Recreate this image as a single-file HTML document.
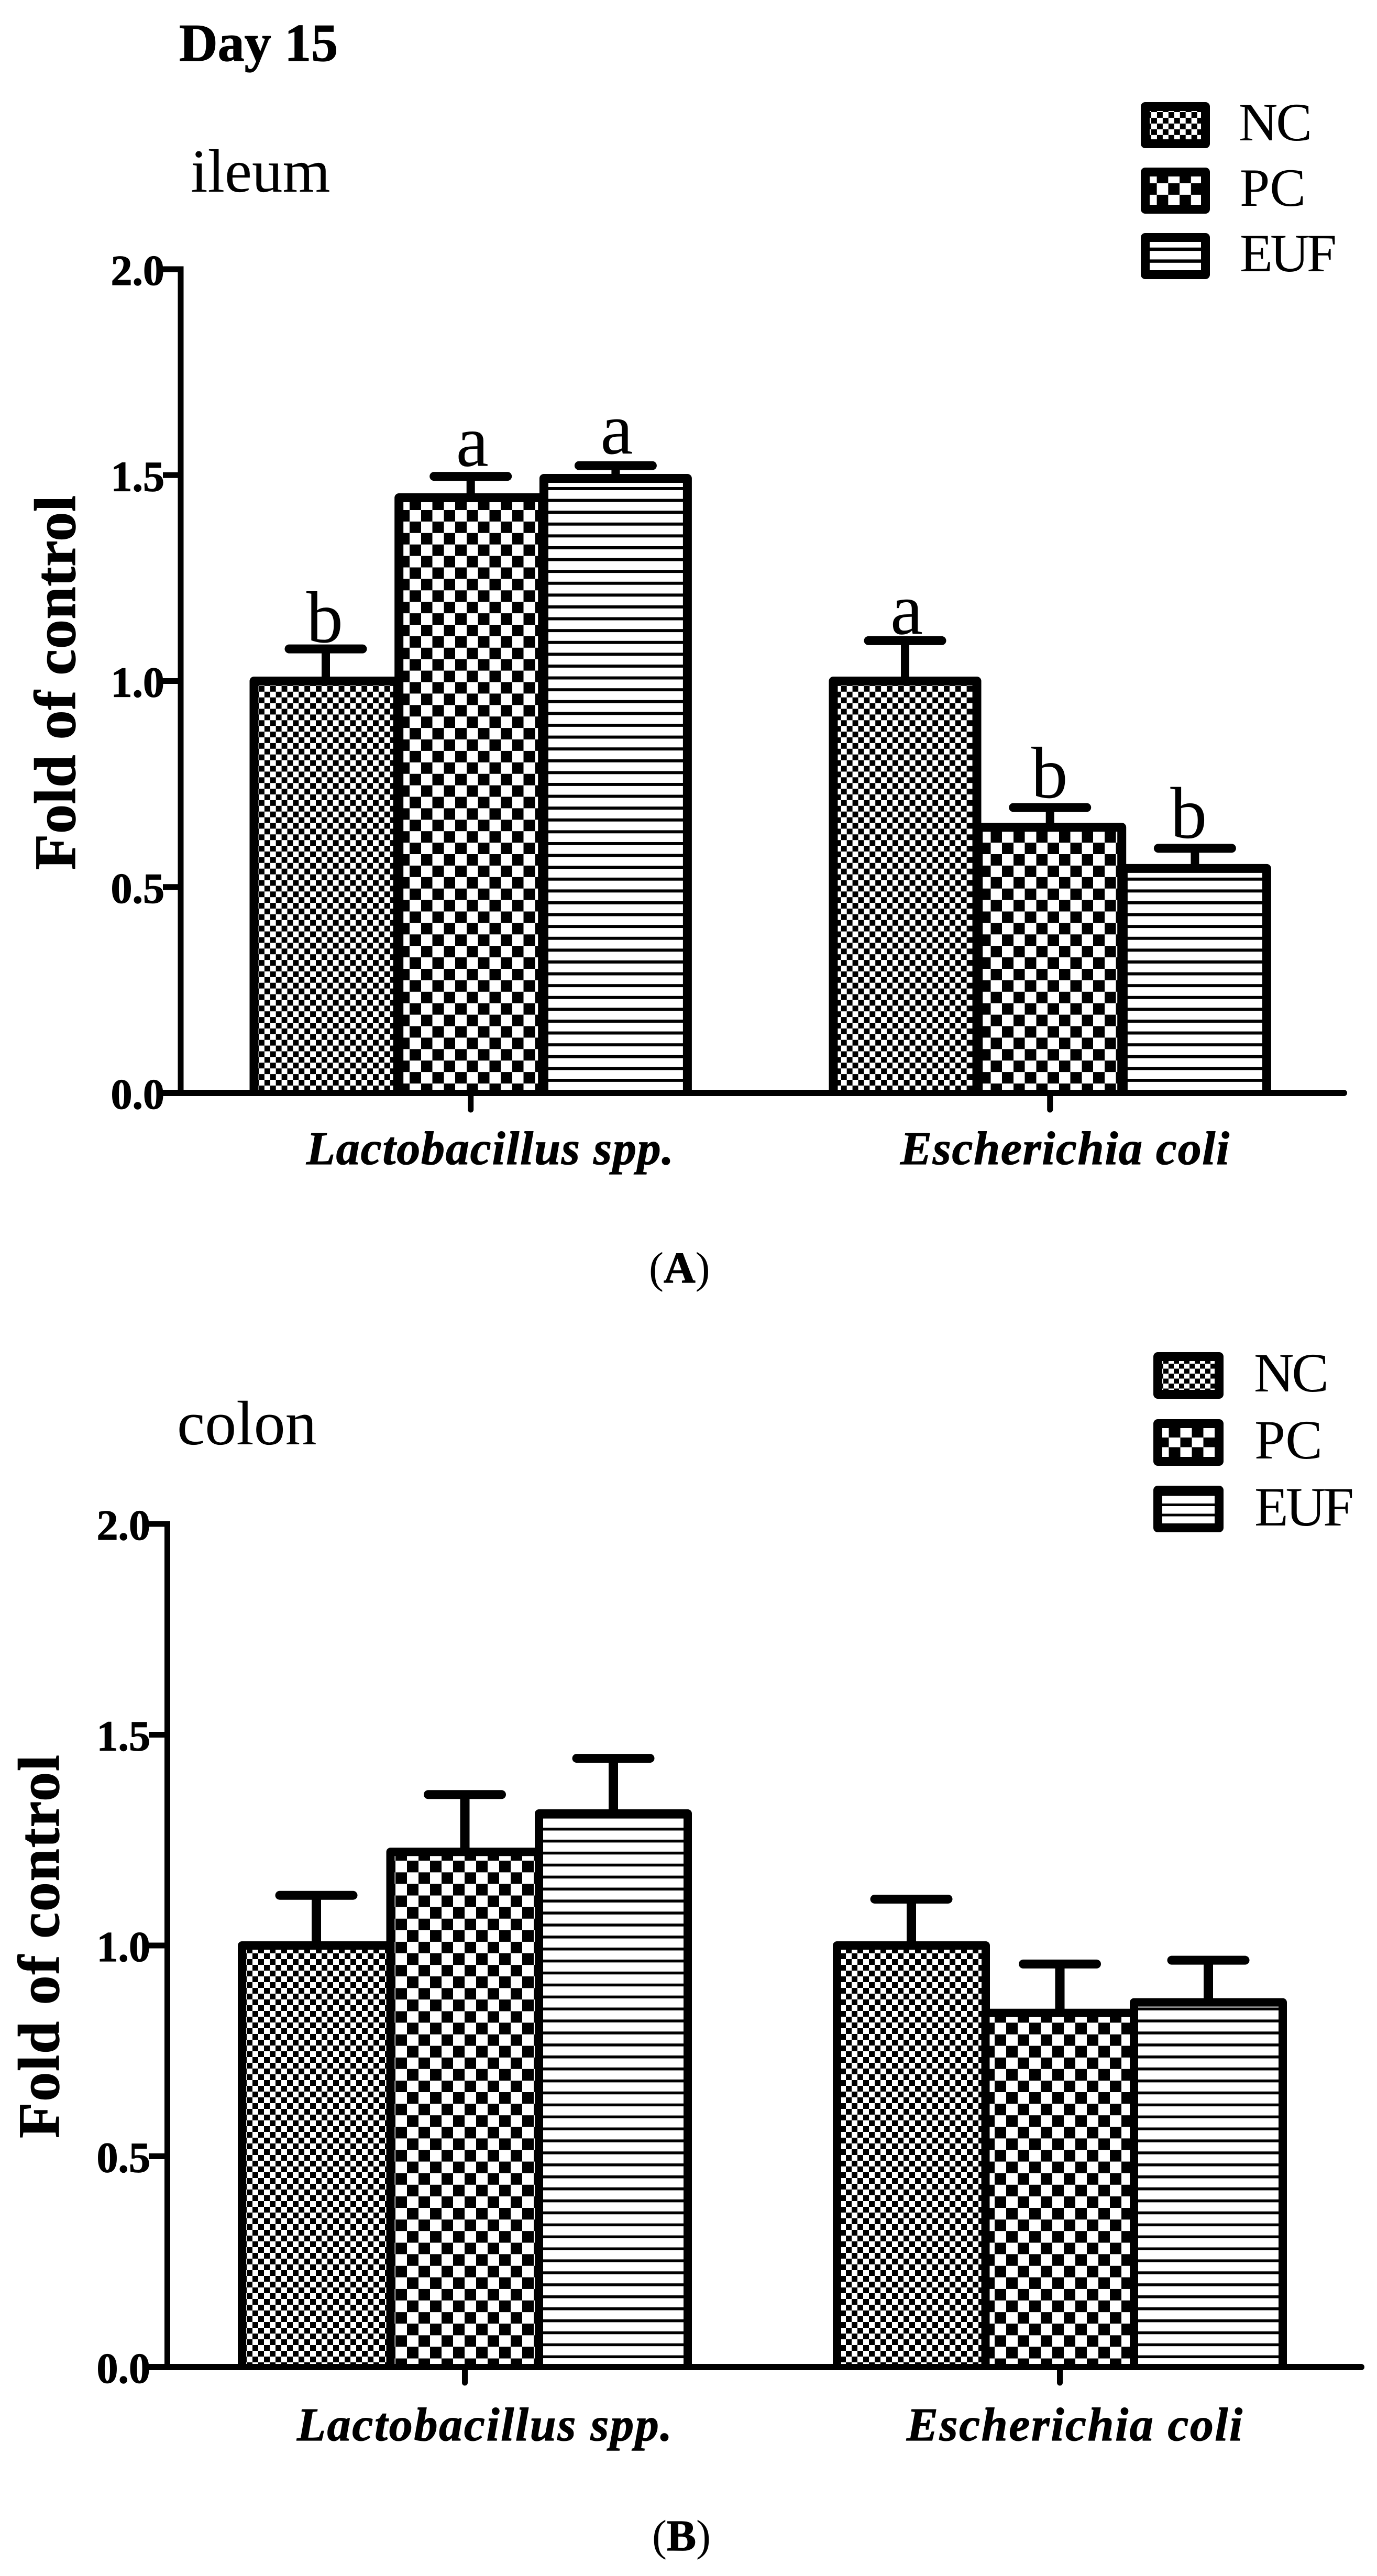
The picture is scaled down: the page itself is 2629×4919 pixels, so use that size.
<!DOCTYPE html>
<html lang="en">
<head>
<meta charset="utf-8">
<title>Day 15 fold of control, ileum and colon</title>
<style>
html,body{margin:0;padding:0;background:#fff;}
svg{display:block;}
text{font-family:"Liberation Serif",serif;fill:#000;text-rendering:geometricPrecision;}
.bold,text[font-weight="bold"]{font-weight:bold;stroke:#000;stroke-width:1.2px;}
</style>
</head>
<body>
<svg id="figure" xmlns="http://www.w3.org/2000/svg" width="2629" height="4919" viewBox="0 0 2629 4919">
<defs>
  <pattern id="nc-a" patternUnits="userSpaceOnUse" x="494" y="972" width="21.8" height="21.8"><rect width="21.8" height="21.8" fill="#000"/><rect width="10.9" height="10.9" fill="#fff" shape-rendering="crispEdges"/><rect x="10.9" y="10.9" width="10.9" height="10.9" fill="#fff" shape-rendering="crispEdges"/></pattern>
  <pattern id="pc-a" patternUnits="userSpaceOnUse" x="782" y="974" width="43.5" height="43.8"><rect width="43.5" height="43.8" fill="#000"/><rect width="21.75" height="21.9" fill="#fff" shape-rendering="crispEdges"/><rect x="21.75" y="21.9" width="21.75" height="21.9" fill="#fff" shape-rendering="crispEdges"/></pattern>
  <pattern id="euf-a" patternUnits="userSpaceOnUse" x="1045" y="930" width="100" height="22.6"><rect width="100" height="22.6" fill="#fff"/><rect width="100" height="5.8" fill="#000" shape-rendering="crispEdges"/></pattern>
  <pattern id="nc-b" patternUnits="userSpaceOnUse" x="471" y="3730" width="22" height="22"><rect width="22" height="22" fill="#000"/><rect width="11" height="11" fill="#fff" shape-rendering="crispEdges"/><rect x="11" y="11" width="11" height="11" fill="#fff" shape-rendering="crispEdges"/></pattern>
  <pattern id="pc-b" patternUnits="userSpaceOnUse" x="755" y="3553" width="44" height="44.2"><rect width="44" height="44.2" fill="#000"/><rect width="22" height="22.1" fill="#fff" shape-rendering="crispEdges"/><rect x="22" y="22.1" width="22" height="22.1" fill="#fff" shape-rendering="crispEdges"/></pattern>
  <pattern id="euf-b" patternUnits="userSpaceOnUse" x="1038" y="3490" width="100" height="22.9"><rect width="100" height="22.9" fill="#fff"/><rect width="100" height="5.6" fill="#000" shape-rendering="crispEdges"/></pattern>
  <pattern id="lg-nc-a" patternUnits="userSpaceOnUse" x="2198" y="214" width="21.9" height="21.9"><rect width="21.9" height="21.9" fill="#000"/><rect width="10.95" height="10.95" fill="#fff"/><rect x="10.95" y="10.95" width="10.95" height="10.95" fill="#fff"/></pattern>
  <pattern id="lg-pc-a" patternUnits="userSpaceOnUse" x="2208.6" y="350" width="43.5" height="43.8"><rect width="43.5" height="43.8" fill="#000"/><rect width="21.75" height="21.9" fill="#fff"/><rect x="21.75" y="21.9" width="21.75" height="21.9" fill="#fff"/></pattern>
  <pattern id="lg-euf-a" patternUnits="userSpaceOnUse" x="2190" y="472.7" width="120" height="22.7"><rect width="120" height="22.7" fill="#fff"/><rect width="120" height="6.4" fill="#000"/></pattern>
  <pattern id="lg-nc-b" patternUnits="userSpaceOnUse" x="2221" y="2604" width="20" height="19"><rect width="20" height="19" fill="#000"/><rect width="10" height="9.5" fill="#fff"/><rect x="10" y="9.5" width="10" height="9.5" fill="#fff"/></pattern>
  <pattern id="lg-pc-b" patternUnits="userSpaceOnUse" x="2231.5" y="2745" width="44" height="37"><rect width="44" height="37" fill="#000"/><rect width="22" height="18.5" fill="#fff"/><rect x="22" y="18.5" width="22" height="18.5" fill="#fff"/></pattern>
  <pattern id="lg-euf-b" patternUnits="userSpaceOnUse" x="2210" y="2871" width="120" height="19.5"><rect width="120" height="19.5" fill="#fff"/><rect width="120" height="5" fill="#000"/></pattern>
</defs>

<rect width="2629" height="4919" fill="#fff"/>

<text class="bold" x="342" y="116" font-size="102">Day 15</text>

<g>
  <text x="364" y="366" font-size="117">ileum</text>
  <text class="bold" font-size="112" textLength="715" lengthAdjust="spacing" transform="translate(143 1661) rotate(-90)">Fold of control</text>
  <text x="1239" y="2449" font-size="84">(<tspan class="bold">A</tspan>)</text>
  <g>
    <rect x="2186.5" y="203.5" width="115" height="71" fill="url(#lg-nc-a)" stroke="#000" stroke-width="17" stroke-linejoin="round"/>
    <text x="2365" y="268" font-size="103" textLength="140" lengthAdjust="spacing">NC</text>
    <rect x="2186.5" y="328.5" width="115" height="71" fill="url(#lg-pc-a)" stroke="#000" stroke-width="17" stroke-linejoin="round"/>
    <text x="2367" y="393" font-size="103" textLength="126" lengthAdjust="spacing">PC</text>
    <rect x="2186.5" y="453.5" width="115" height="71" fill="url(#lg-euf-a)" stroke="#000" stroke-width="17" stroke-linejoin="round"/>
    <text x="2367" y="518" font-size="103" textLength="185" lengthAdjust="spacing">EUF</text>
  </g>
</g>

<g>
  <text x="338" y="2758" font-size="120">colon</text>
  <text class="bold" font-size="112" textLength="732" lengthAdjust="spacing" transform="translate(112 4083) rotate(-90)">Fold of control</text>
  <text x="1245" y="4870" font-size="84">(<tspan class="bold">B</tspan>)</text>
  <g>
    <rect x="2210.5" y="2590.5" width="117" height="72" fill="url(#lg-nc-b)" stroke="#000" stroke-width="17" stroke-linejoin="round"/>
    <text x="2394" y="2657" font-size="106" textLength="143" lengthAdjust="spacing">NC</text>
    <rect x="2210.5" y="2718.5" width="117" height="72" fill="url(#lg-pc-b)" stroke="#000" stroke-width="17" stroke-linejoin="round"/>
    <text x="2395" y="2785" font-size="106" textLength="130" lengthAdjust="spacing">PC</text>
    <rect x="2210.5" y="2845.5" width="117" height="72" fill="url(#lg-euf-b)" stroke="#000" stroke-width="17" stroke-linejoin="round"/>
    <text x="2395" y="2913" font-size="106" textLength="190" lengthAdjust="spacing">EUF</text>
  </g>
</g>

<g id="plots"></g>
</svg>

<script>
// ---- data ----
const categories = ['Lactobacillus spp.', 'Escherichia coli'];
const seriesNames = ['NC', 'PC', 'EUF'];
const yTickValues = [0, 0.5, 1, 1.5, 2];
const yTickLabels = ['0.0', '0.5', '1.0', '1.5', '2.0'];

const ileumNC = [1.00, 1.00];
const ileumPC = [1.445, 0.645];
const ileumEUF = [1.492, 0.545];
const ileumErrNC = [0.078, 0.098];
const ileumErrPC = [0.052, 0.048];
const ileumErrEUF = [0.031, 0.049];
const ileumLettersNC = ['b', 'a'];
const ileumLettersPC = ['a', 'b'];
const ileumLettersEUF = ['a', 'b'];

const colonNC = [1.00, 1.00];
const colonPC = [1.222, 0.84];
const colonEUF = [1.313, 0.865];
const colonErrNC = [0.119, 0.11];
const colonErrPC = [0.136, 0.116];
const colonErrEUF = [0.131, 0.10];

// ---- layout (geometry only) ----
const panels = [
  {
    key: 'a', values: [ileumNC, ileumPC, ileumEUF], errors: [ileumErrNC, ileumErrPC, ileumErrEUF],
    letters: [ileumLettersNC, ileumLettersPC, ileumLettersEUF],
    letterLift: [[13, 13], [20, 19], [23, 20]],
    letterShift: [[-2, 3], [3, -1], [2, -12]],
    yZero: 2087, yTop: 514, axisX: 345, tickStart: 311, axisEnd: 2566,
    catTickEnd: 2124, labelBaseline: 2223,
    groupStart: [622, 1728], step: 276.7, halfBar: 137, stroke: 17, stem: 16,
    labelX: [[585, 701], [1719, 628]], fills: ['nc-a', 'pc-a', 'euf-a']
  },
  {
    key: 'b', values: [colonNC, colonPC, colonEUF], errors: [colonErrNC, colonErrPC, colonErrEUF],
    letters: null, letterLift: null, letterShift: null,
    yZero: 4520, yTop: 2910, axisX: 319.5, tickStart: 284, axisEnd: 2599,
    catTickEnd: 4555, labelBaseline: 4660,
    groupStart: [604, 1740], step: 283.5, halfBar: 142, stroke: 16, stem: 18,
    labelX: [[567, 716], [1731, 641]], fills: ['nc-b', 'pc-b', 'euf-b']
  }
];

const SVGNS = 'http://www.w3.org/2000/svg';
const root = document.getElementById('plots');

function make(tag, parent, attrs) {
  const el = document.createElementNS(SVGNS, tag);
  Object.keys(attrs).forEach(function (k) { el.setAttribute(k, attrs[k]); });
  parent.appendChild(el);
  return el;
}

function drawPanel(p) {
  const yScale = function (v) { return p.yZero - (p.yZero - p.yTop) * v / 2; };
  const xScale = function (cat, s) { return p.groupStart[cat] + s * p.step; };

  const g = make('g', root, {});
  
  

  // bars: left, top and right edges only, so nothing shows below the axis
  seriesNames.forEach(function (name, s) {
    categories.forEach(function (cat, c) {
      const cx = xScale(c, s);
      const top = yScale(p.values[s][c]);
      const left = cx - p.halfBar;
      const right = cx + p.halfBar;
      const bar = make('path', g, {
        d: 'M' + left + ' ' + p.yZero + 'V' + top + 'H' + right + 'V' + p.yZero,
        fill: 'url(#' + p.fills[s] + ')', stroke: '#000', 'stroke-width': p.stroke, 'stroke-linejoin': 'round'
      });
      
      
    });
  });

  // error bars and significance letters
  seriesNames.forEach(function (name, s) {
    categories.forEach(function (cat, c) {
      const cx = xScale(c, s);
      const top = yScale(p.values[s][c]);
      const capY = yScale(p.values[s][c] + p.errors[s][c]);
      const stem = make('line', g, { x1: cx, x2: cx, y1: top, y2: capY, stroke: '#000', 'stroke-width': p.stem });
      
      
      const cap = make('line', g, { x1: cx - 70, x2: cx + 70, y1: capY, y2: capY, stroke: '#000', 'stroke-width': 17, 'stroke-linecap': 'round' });
      
      
      if (p.letters) {
        const t = make('text', g, {
          x: cx + p.letterShift[s][c], y: capY - p.letterLift[s][c],
          'font-size': 140, 'text-anchor': 'middle'
        });
        t.textContent = p.letters[s][c];
        
        
      }
    });
  });

  // y axis
  const yAxis = make('line', g, { x1: p.axisX, x2: p.axisX, y1: p.yTop - 5.5, y2: p.yZero, stroke: '#000', 'stroke-width': 11 });
  
  

  yTickValues.forEach(function (v, i) {
    const y = yScale(v);
    if (v > 0) {
      const tick = make('line', g, { x1: p.tickStart, x2: p.axisX, y1: y, y2: y, stroke: '#000', 'stroke-width': 11 });
      
      
    }
    const lab = make('text', g, { x: p.tickStart + 3, y: y + 30, 'font-size': 82, 'font-weight': 'bold', 'text-anchor': 'end' });
    lab.textContent = yTickLabels[i];
    
    
  });

  // x axis
  const xAxis = make('line', g, { x1: p.tickStart, x2: p.axisEnd, y1: p.yZero, y2: p.yZero, stroke: '#000', 'stroke-width': 12, 'stroke-linecap': 'round' });
  
  

  categories.forEach(function (cat, c) {
    const cx = xScale(c, 1);
    const tick = make('line', g, { x1: cx, x2: cx, y1: p.yZero, y2: p.catTickEnd - 5, stroke: '#000', 'stroke-width': 11, 'stroke-linecap': 'round' });
    
    
    const lab = make('text', g, {
      x: p.labelX[c][0], y: p.labelBaseline, 'font-size': 90, 'font-weight': 'bold', 'font-style': 'italic',
      textLength: p.labelX[c][1], lengthAdjust: 'spacing'
    });
    lab.textContent = cat;
    
    
  });
}

panels.forEach(drawPanel);
</script>
</body>
</html>
